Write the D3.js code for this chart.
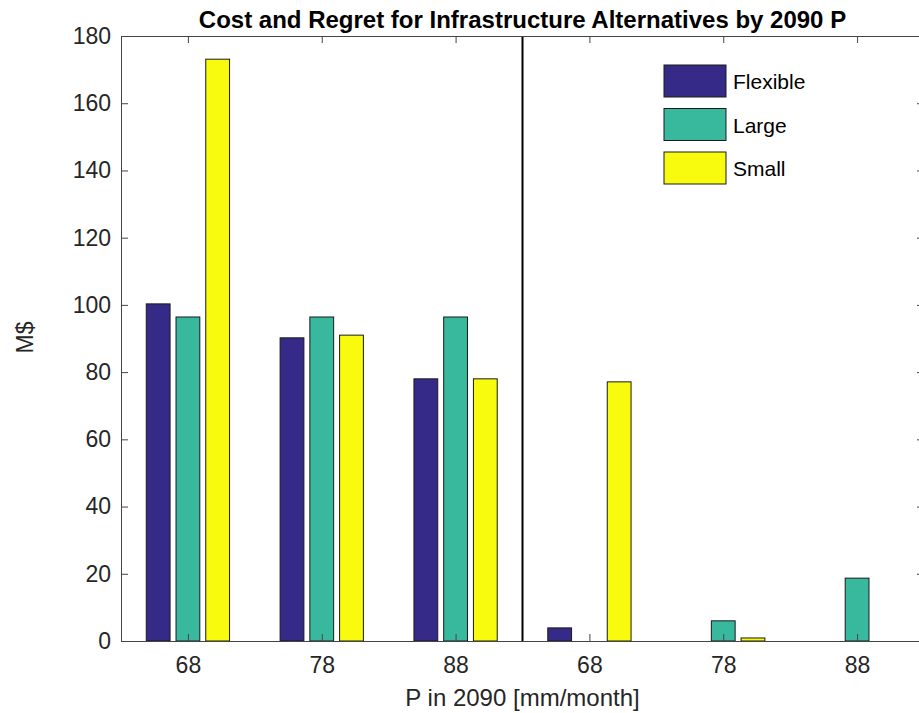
<!DOCTYPE html>
<html>
<head>
<meta charset="utf-8">
<script src="https://cdn.jsdelivr.net/npm/d3@7"></script>
<style>
  body { margin:0; background:#fff; }
  svg { display:block; font-family:"Liberation Sans", Arial, Helvetica, sans-serif; }
</style>
</head>
<body>
<script>
var width = 919, height = 713;

// data
var tickLabels = ["68", "78", "88", "68", "78", "88"];
var seriesNames = ["Flexible", "Large", "Small"];
var seriesColors = ["#352a87", "#38b99e", "#f9fb0e"];
var flexible = [100.3, 90.2, 78.0, 3.9, 0, 0];
var large    = [96.4, 96.4, 96.4, 0, 6.0, 18.7];
var small    = [173.1, 91.0, 78.0, 77.1, 0.9, 0];
var yTicks = [0, 20, 40, 60, 80, 100, 120, 140, 160, 180];

var series = [flexible, large, small];

var svg = d3.select("body").append("svg")
            .attr("width", width)
            .attr("height", height);

var x = d3.scaleLinear().domain([0.5, 6.5]).range([121, 924]);
var y = d3.scaleLinear().domain([0, 180]).range([641, 36]);

var axisColor = "#262626";

// bars (matlab grouped layout)
var groupW = 2/3, offs = groupW/3, barW = offs*0.8;
series.forEach(function(vals, s){
  svg.append("g").selectAll("rect")
    .data(vals)
    .enter().append("rect")
      .attr("x", function(d,i){ return x(i+1 + (s-1)*offs - barW/2); })
      .attr("width", x(barW) - x(0))
      .attr("y", function(d){ return y(d); })
      .attr("height", function(d){ return y(0) - y(d); })
      .attr("fill", seriesColors[s])
      .attr("stroke", "#1a1a1a")
      .attr("stroke-width", 1)
      .attr("display", function(d){ return d > 0 ? null : "none"; });
});

// separator line
svg.append("line")
   .attr("x1", x(3.5)).attr("x2", x(3.5))
   .attr("y1", y(180)).attr("y2", y(0))
   .attr("stroke", "#000").attr("stroke-width", 2);

// axes
var xAxis = d3.axisBottom(x).tickValues([1,2,3,4,5,6])
              .tickFormat(function(d){ return tickLabels[d-1]; })
              .tickSizeInner(-7).tickSizeOuter(0).tickPadding(16);
var xTop = d3.axisTop(x).tickValues([1,2,3,4,5,6]).tickFormat("")
              .tickSizeInner(-7).tickSizeOuter(0);
var yAxis = d3.axisLeft(y).tickValues(yTicks)
              .tickSizeInner(-7).tickSizeOuter(0).tickPadding(10);
var yRight = d3.axisRight(y).tickValues(yTicks).tickFormat("")
              .tickSizeInner(-7).tickSizeOuter(0);

function styleAxis(g){
  g.selectAll("path").attr("stroke", "#444").attr("stroke-width", 1);
  g.selectAll("line").attr("stroke", "#444").attr("stroke-width", 1);
  g.selectAll("text").attr("fill", axisColor).style("font-size", "23px")
   .style("font-family", "'Liberation Sans', Arial, sans-serif");
}

svg.append("g").attr("transform", "translate(0," + y(0) + ")").call(xAxis).call(styleAxis);
svg.append("g").attr("transform", "translate(0," + y(180) + ")").call(xTop).call(styleAxis);
svg.append("g").attr("transform", "translate(" + x(0.5) + ",0)").call(yAxis).call(styleAxis);
svg.append("g").attr("transform", "translate(" + x(6.5) + ",0)").call(yRight).call(styleAxis);

// title and labels
svg.append("text")
   .attr("x", (x(0.5) + x(6.5))/2).attr("y", 28)
   .attr("text-anchor", "middle")
   .style("font-size", "24px").style("font-weight", "bold")
   .attr("fill", "#000")
   .text("Cost and Regret for Infrastructure Alternatives by 2090 P");

svg.append("text")
   .attr("x", (x(0.5) + x(6.5))/2).attr("y", 706)
   .attr("text-anchor", "middle")
   .style("font-size", "24px").attr("fill", axisColor)
   .text("P in 2090 [mm/month]");

svg.append("text")
   .attr("transform", "translate(33," + (y(90) - 1) + ") rotate(-90)")
   .attr("text-anchor", "middle")
   .style("font-size", "23px").attr("fill", axisColor)
   .text("M$");

// legend
var legend = svg.append("g").attr("transform", "translate(664,65)");
seriesNames.forEach(function(name, i){
  var row = legend.append("g").attr("transform", "translate(0," + (i*43.5) + ")");
  row.append("rect")
     .attr("width", 62).attr("height", 32)
     .attr("fill", seriesColors[i])
     .attr("stroke", "#1a1a1a").attr("stroke-width", 1);
  row.append("text")
     .attr("x", 69).attr("y", 24)
     .style("font-size", "21px").attr("fill", "#000")
     .text(name);
});
</script>
</body>
</html>
